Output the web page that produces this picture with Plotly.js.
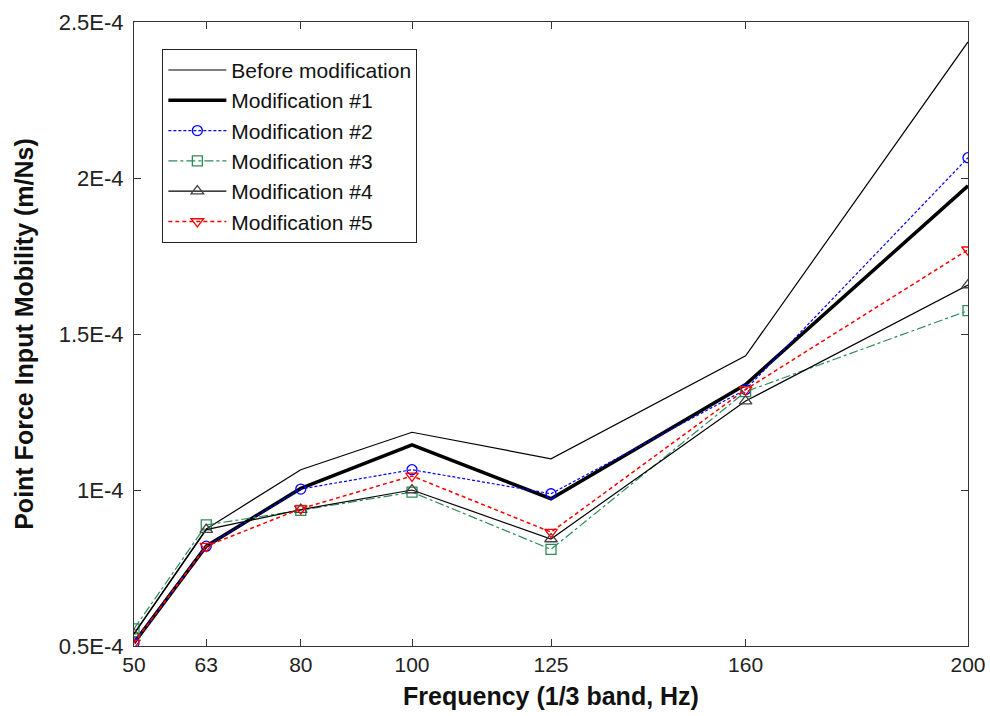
<!DOCTYPE html>
<html>
<head>
<meta charset="utf-8">
<script src="https://cdn.plot.ly/plotly-3.0.1.min.js"></script>
<style>html,body{margin:0;padding:0;background:#fff;}#chart{width:990px;height:716px;}</style>
</head>
<body>
<div id="chart"></div>
<script>
const freq = [50, 63, 80, 100, 125, 160, 200];
const before = [0.540e-4, 0.875e-4, 1.065e-4, 1.185e-4, 1.100e-4, 1.430e-4, 2.436e-4];
const mod1 = [0.510e-4, 0.820e-4, 1.005e-4, 1.145e-4, 0.972e-4, 1.338e-4, 1.975e-4];
const mod2 = [0.510e-4, 0.820e-4, 1.003e-4, 1.065e-4, 0.988e-4, 1.322e-4, 2.065e-4];
const mod3 = [0.555e-4, 0.888e-4, 0.935e-4, 0.993e-4, 0.810e-4, 1.315e-4, 1.575e-4];
const mod4 = [0.538e-4, 0.873e-4, 0.937e-4, 1.000e-4, 0.843e-4, 1.285e-4, 1.657e-4];
const mod5 = [0.510e-4, 0.820e-4, 0.940e-4, 1.045e-4, 0.865e-4, 1.322e-4, 1.770e-4];
const names = ["Before modification", "Modification #1", "Modification #2", "Modification #3", "Modification #4", "Modification #5"];
const yTickVals = [0.5e-4, 1e-4, 1.5e-4, 2e-4, 2.5e-4];
const yTickText = ["0.5E-4", "1E-4", "1.5E-4", "2E-4", "2.5E-4"];

const traces = [
  {x: freq, y: before, name: names[0], mode: "lines", line: {color: "#000", width: 1.2}},
  {x: freq, y: mod1, name: names[1], mode: "lines", line: {color: "#000", width: 3.5}},
  {x: freq, y: mod2, name: names[2], mode: "lines+markers", line: {color: "#0000ff", width: 1.2, dash: "3px,2px"},
   marker: {symbol: "circle-open", size: 10, color: "#0000ff", line: {width: 1.3}}},
  {x: freq, y: mod3, name: names[3], mode: "lines+markers", line: {color: "#2e8b57", width: 1.2, dash: "dashdot"},
   marker: {symbol: "square-open", size: 10, color: "#2e8b57", line: {width: 1.3}}},
  {x: freq, y: mod4, name: names[4], mode: "lines+markers", line: {color: "#000", width: 1.2},
   marker: {symbol: "triangle-up-open", size: 11, color: "#444", line: {width: 1.3}}},
  {x: freq, y: mod5, name: names[5], mode: "lines+markers", line: {color: "#ff0000", width: 1.5, dash: "4px,3px"},
   marker: {symbol: "triangle-down-open", size: 11, color: "#ff0000", line: {width: 1.3}}}
];

const layout = {
  width: 990, height: 716,
  margin: {l: 134, r: 22, t: 22, b: 70},
  paper_bgcolor: "#fff", plot_bgcolor: "#fff",
  font: {family: "Arial, 'Liberation Sans', sans-serif", color: "#111"},
  showlegend: true,
  legend: {x: 0.034, y: 0.957, xanchor: "left", yanchor: "top",
    bordercolor: "#222", borderwidth: 1, bgcolor: "#fff",
    font: {size: 21, color: "#111"}, tracegroupgap: 0, itemwidth: 58},
  xaxis: {
    range: [50, 200], tickvals: freq, ticktext: freq.map(String),
    showgrid: false, zeroline: false, showline: true, linecolor: "#333", linewidth: 1,
    mirror: "ticks", ticks: "inside", ticklen: 7, tickcolor: "#333",
    tickfont: {size: 21, color: "#222"},
    title: {text: "<b>Frequency (1/3 band, Hz)</b>", font: {size: 25, color: "#111"}, standoff: 12}
  },
  yaxis: {
    range: [0.5e-4, 2.5e-4], tickvals: yTickVals, ticktext: yTickText,
    showgrid: false, zeroline: false, showline: true, linecolor: "#333", linewidth: 1,
    mirror: "ticks", ticks: "inside", ticklen: 7, tickcolor: "#333",
    tickfont: {size: 22, color: "#222"}, ticklabelstandoff: 5,
    title: {text: "<b>Point Force Input Mobility (m/Ns)</b>", font: {size: 25, color: "#111"}, standoff: 18}
  }
};

Plotly.newPlot("chart", traces, layout, {displayModeBar: false, staticPlot: true});
</script>
</body>
</html>
